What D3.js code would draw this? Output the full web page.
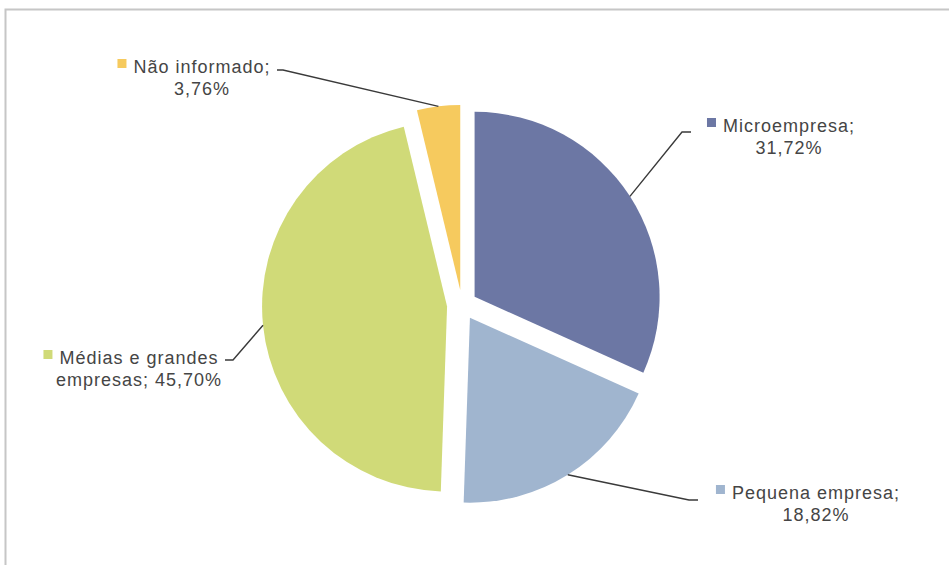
<!DOCTYPE html>
<html>
<head>
<meta charset="utf-8">
<script src="https://cdn.jsdelivr.net/npm/d3@7"></script>
<style>
  body { margin: 0; background: #fff; }
  svg { display: block; font-family: "Liberation Sans", Arial, sans-serif; }
</style>
</head>
<body>
<svg id="pie" width="949" height="565"></svg>
<script>
// slice data, clockwise from 12 o'clock
var categories = ["Microempresa", "Pequena empresa", "Médias e grandes empresas", "Não informado"];
var values = [31.72, 18.82, 45.70, 3.76];
var valueLabels = ["31,72%", "18,82%", "45,70%", "3,76%"];
var colors = ["#6c77a4", "#a0b5cf", "#d0da78", "#f6ca5e"];

// label layout: first line, second line, text centre, baseline, leader elbow + end
var labelLines = [
  ["Microempresa;", "31,72%"],
  ["Pequena empresa;", "18,82%"],
  ["Médias e grandes", "empresas; 45,70%"],
  ["Não informado;", "3,76%"]
];
var labelPos = [
  {cx: 789, y: 132, elbow: [682, 132], end: [691, 132]},
  {cx: 816, y: 499, elbow: [689, 500], end: [698, 500]},
  {cx: 139, y: 364, elbow: [233, 360], end: [225, 360]},
  {cx: 202, y: 73,  elbow: [283, 70],  end: [277, 70]}
];

var svg = d3.select("#pie");

// chart border (only top/left visible in the crop)
svg.append("rect")
  .attr("x", 5.5).attr("y", 9.5)
  .attr("width", 1000).attr("height", 1000)
  .attr("fill", "none")
  .attr("stroke", "#c6c6c6")
  .attr("stroke-width", 2);

var cx = 462, cy = 305, r = 185, explode = 15;

var pie = d3.pie().sort(null).value(function(d){ return d; });
var arcs = pie(values);

var arc = d3.arc().innerRadius(0).outerRadius(r);
var edge = d3.arc().innerRadius(r).outerRadius(r);

function offset(d) {
  var a = (d.startAngle + d.endAngle) / 2;
  return [Math.sin(a) * explode, -Math.cos(a) * explode];
}

var g = svg.append("g").attr("transform", "translate(" + cx + "," + cy + ")");

g.selectAll("path.slice")
  .data(arcs)
  .enter()
  .append("path")
  .attr("class", "slice")
  .attr("d", arc)
  .attr("fill", function(d, i){ return colors[i]; })
  .attr("transform", function(d){ var o = offset(d); return "translate(" + o[0] + "," + o[1] + ")"; });

// leader lines from outer edge of each slice
svg.selectAll("polyline.leader")
  .data(arcs)
  .enter()
  .append("polyline")
  .attr("class", "leader")
  .attr("points", function(d, i){
    var o = offset(d);
    var p = edge.centroid(d);
    var start = [cx + o[0] + p[0], cy + o[1] + p[1]];
    return [start, labelPos[i].elbow, labelPos[i].end].map(function(q){ return q.join(","); }).join(" ");
  })
  .attr("fill", "none")
  .attr("stroke", "#3a3a3a")
  .attr("stroke-width", 1.4);

// labels
labelLines.forEach(function(lines, i){
  var pos = labelPos[i];
  var t1 = svg.append("text")
    .attr("x", pos.cx).attr("y", pos.y)
    .attr("text-anchor", "middle")
    .attr("font-size", 18)
    .attr("letter-spacing", 1)
    .attr("fill", "#454545")
    .text(lines[0]);
  svg.append("text")
    .attr("x", pos.cx).attr("y", pos.y + 22)
    .attr("text-anchor", "middle")
    .attr("font-size", 18)
    .attr("letter-spacing", 1)
    .attr("fill", "#454545")
    .text(lines[1]);
  var bb = t1.node().getBBox();
  svg.append("rect")
    .attr("x", bb.x - 16).attr("y", pos.y - 14)
    .attr("width", 9).attr("height", 9)
    .attr("fill", colors[i]);
});
</script>
</body>
</html>
